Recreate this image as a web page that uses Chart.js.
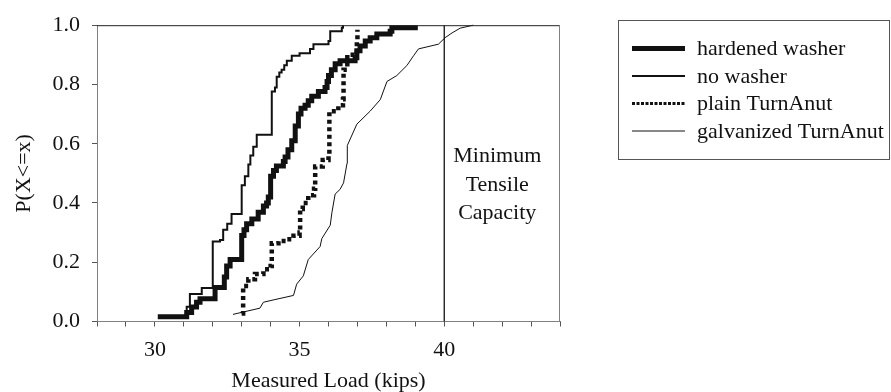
<!DOCTYPE html>
<html><head><meta charset="utf-8">
<script src="https://cdn.jsdelivr.net/npm/chart.js@4.4.0/dist/chart.umd.min.js"></script>
<style>html,body{margin:0;padding:0;background:#fff;}</style>
</head><body>
<canvas id="c" width="891" height="392"></canvas>
<script>
// ---- data ----
const seriesNames = ["hardened washer", "no washer", "plain TurnAnut", "galvanized TurnAnut"];

const hardenedLoad = [30.1, 31.1, 31.27, 31.44, 31.56, 32.08, 32.4, 32.48, 32.6, 33.0, 33.08, 33.17, 33.35, 33.57, 33.75, 33.86, 33.92, 34.0, 34.1, 34.2, 34.44, 34.5, 34.6, 34.73, 34.85, 34.96, 35.05, 35.19, 35.3, 35.42, 35.65, 35.88, 35.95, 36.0, 36.1, 36.23, 36.4, 36.92, 36.98, 37.09, 37.27, 37.44, 37.67, 38.13, 38.19, 39.0];
const hardenedProb = [0.016, 0.03, 0.049, 0.065, 0.077, 0.115, 0.15, 0.187, 0.209, 0.29, 0.31, 0.33, 0.346, 0.369, 0.39, 0.40, 0.42, 0.49, 0.51, 0.525, 0.54, 0.555, 0.58, 0.61, 0.66, 0.70, 0.72, 0.73, 0.745, 0.76, 0.776, 0.79, 0.81, 0.83, 0.85, 0.87, 0.88, 0.89, 0.914, 0.93, 0.947, 0.958, 0.97, 0.98, 0.991, 1.0];

const noWasherLoad = [31.05, 31.1, 31.21, 31.62, 32.0, 32.25, 32.36, 32.5, 32.65, 33.0, 33.11, 33.23, 33.3, 33.4, 33.52, 34.04, 34.15, 34.21, 34.3, 34.38, 34.47, 34.56, 34.73, 35.0, 35.36, 35.48, 36.0, 36.06, 36.46, 36.5];
const noWasherProb = [0.03, 0.05, 0.093, 0.113, 0.27, 0.275, 0.31, 0.33, 0.363, 0.46, 0.49, 0.53, 0.56, 0.59, 0.63, 0.776, 0.79, 0.826, 0.84, 0.85, 0.865, 0.88, 0.897, 0.905, 0.92, 0.936, 0.947, 0.98, 0.991, 1.0];

const plainLoad = [33.0, 33.05, 33.23, 33.46, 33.75, 34.0, 34.04, 34.27, 34.56, 34.79, 35.0, 35.02, 35.11, 35.3, 35.5, 35.54, 35.8, 36.0, 36.03, 36.34, 36.5, 36.52, 36.65, 36.98, 37.0];
const plainProb = [0.027, 0.12, 0.143, 0.16, 0.176, 0.187, 0.264, 0.272, 0.278, 0.289, 0.30, 0.38, 0.40, 0.426, 0.448, 0.523, 0.545, 0.56, 0.71, 0.73, 0.75, 0.85, 0.90, 0.95, 0.985];

const galvLoad = [32.7, 33.63, 33.75, 34.15, 34.79, 34.9, 35.13, 35.3, 35.71, 35.77, 36.06, 36.12, 36.23, 36.4, 36.52, 36.64, 36.65, 36.98, 37.44, 37.79, 38.02, 38.36, 38.71, 38.94, 39.11, 39.8, 40.03, 40.27, 40.55, 41.0];
const galvProb = [0.024, 0.045, 0.065, 0.074, 0.088, 0.126, 0.154, 0.209, 0.253, 0.28, 0.325, 0.369, 0.43, 0.446, 0.468, 0.534, 0.594, 0.666, 0.71, 0.749, 0.81, 0.83, 0.864, 0.897, 0.92, 0.936, 0.958, 0.974, 0.99, 1.0];

const capacityLoad = 40;
const capacityProb = [0, 1];
const annotationLines = ["Minimum", "Tensile", "Capacity"];
const xLabelValues = [30, 35, 40];
const xAxisTitle = "Measured Load (kips)";
const yAxisTitle = "P(X<=x)";

// ---- helpers ----
const pts = (xs, ys) => xs.map((x, i) => ({x: x, y: ys[i]}));
const FONT = "'Liberation Serif', 'Times New Roman', serif";

const styles = [
  {w: 5, dash: [], stepped: 'before', lw: 5, ldash: []},
  {w: 2, dash: [], stepped: 'before', lw: 2, ldash: []},
  {w: 4.5, dash: [4, 3.5], stepped: 'before', lw: 3, ldash: [3, 1.5]},
  {w: 1, dash: [], stepped: false, lw: 1, ldash: []}
];
const seriesData = [pts(hardenedLoad, hardenedProb), pts(noWasherLoad, noWasherProb), pts(plainLoad, plainProb), pts(galvLoad, galvProb)];

const datasets = seriesData.map((d, i) => ({
  label: seriesNames[i],
  data: d,
  showLine: true,
  borderColor: '#111',
  backgroundColor: '#111',
  borderWidth: styles[i].w,
  borderDash: styles[i].dash,
  stepped: styles[i].stepped,
  tension: 0,
  pointRadius: 0,
  borderJoinStyle: 'miter',
  borderCapStyle: 'butt',
  clip: 6
}));
datasets.push({
  label: 'capacity',
  data: capacityProb.map(p => ({x: capacityLoad, y: p})),
  showLine: true, borderColor: '#111', borderWidth: 1.3, pointRadius: 0, clip: 2
});

const decor = {
  id: 'decor',
  afterDraw(chart) {
    const ctx = chart.ctx, a = chart.chartArea;
    ctx.save();
    // top and right frame
    ctx.lineWidth = 1;
    ctx.strokeStyle = '#222';
    ctx.beginPath(); ctx.moveTo(a.left, a.top + 0.5); ctx.lineTo(a.right, a.top + 0.5); ctx.stroke();
    ctx.strokeStyle = '#808080';
    ctx.beginPath(); ctx.moveTo(a.right - 0.5, a.top); ctx.lineTo(a.right - 0.5, a.bottom); ctx.stroke();

    // annotation text next to the capacity line
    const xs = chart.scales.x;
    ctx.fillStyle = '#111';
    ctx.font = '22px ' + FONT;
    ctx.textAlign = 'center';
    ctx.textBaseline = 'alphabetic';
    const cx = xs.getPixelForValue(capacityLoad) + 53;
    const baseY = [162, 190.5, 219];
    annotationLines.forEach((t, i) => ctx.fillText(t, cx, baseY[i]));

    // legend
    const L = 618.5, T = 20.5, R = 889.5;
    const rowY = [48.5, 76, 103.5, 131];
    const B = 159.5;
    ctx.strokeStyle = '#555';
    ctx.lineWidth = 1;
    ctx.setLineDash([]);
    ctx.strokeRect(L, T, R - L, B - T);
    ctx.textAlign = 'left';
    ctx.textBaseline = 'middle';
    seriesNames.forEach((n, i) => {
      ctx.beginPath();
      ctx.lineWidth = styles[i].lw;
      ctx.setLineDash(styles[i].ldash);
      ctx.strokeStyle = '#111';
      ctx.moveTo(632, rowY[i]); ctx.lineTo(685, rowY[i]);
      ctx.stroke();
      ctx.setLineDash([]);
      ctx.fillText(n, 697, rowY[i] + 1);
    });
    ctx.restore();
  }
};

new Chart(document.getElementById('c'), {
  type: 'scatter',
  data: {datasets: datasets},
  options: {
    responsive: false,
    animation: false,
    devicePixelRatio: 1,
    layout: {padding: {left: 0, top: 18, right: 331, bottom: 0}},
    plugins: {legend: {display: false}, tooltip: {enabled: false}},
    scales: {
      x: {
        type: 'linear', min: 28, max: 44,
        afterFit(s) { s.height = 70.5; },
        ticks: {
          stepSize: 1, autoSkip: false, maxRotation: 0, padding: 11,
          color: '#111', font: {family: FONT, size: 22},
          callback: v => xLabelValues.includes(v) ? String(v) : ''
        },
        grid: {display: true, drawOnChartArea: false, drawTicks: true, tickLength: 5, tickColor: '#555'},
        border: {display: true, color: '#808080', width: 1},
        title: {display: true, text: xAxisTitle, color: '#111', font: {family: FONT, size: 22, lineHeight: 1.0}, padding: {top: 0, bottom: 0}}
      },
      y: {
        type: 'linear', min: 0, max: 1,
        afterFit(s) { s.width = 97; },
        ticks: {
          stepSize: 0.2, padding: 12, color: '#111', font: {family: FONT, size: 22},
          callback: v => Number(v).toFixed(1)
        },
        grid: {display: true, drawOnChartArea: false, drawTicks: true, tickLength: 5, tickColor: '#555'},
        border: {display: true, color: '#808080', width: 1},
        title: {display: true, text: yAxisTitle, color: '#111', font: {family: FONT, size: 22}, padding: {top: 11, bottom: 0}}
      }
    }
  },
  plugins: [decor]
});
</script>
</body></html>
